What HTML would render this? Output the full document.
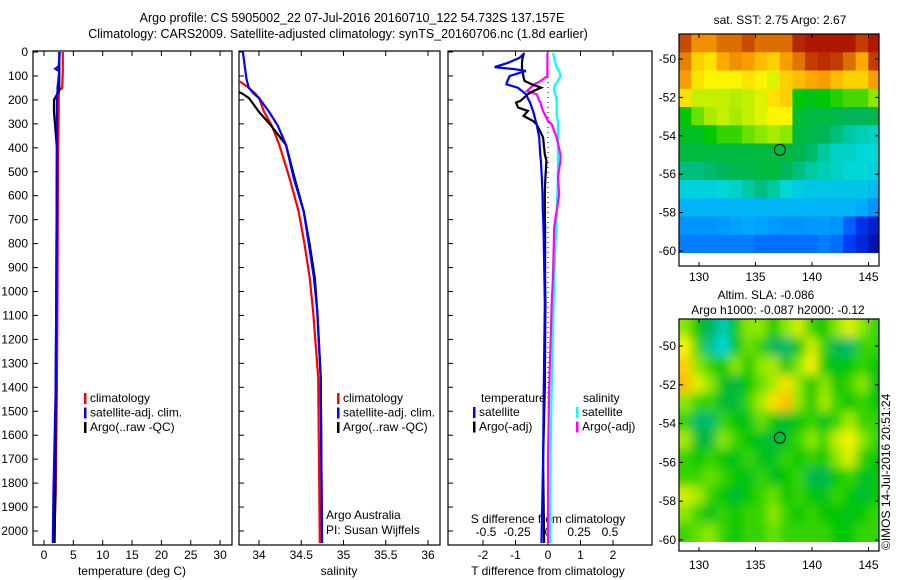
<!DOCTYPE html>
<html><head><meta charset="utf-8"><style>
html,body{margin:0;padding:0;background:#fff;}
svg{display:block;font-family:"Liberation Sans",sans-serif;}
</style></head><body>
<svg id="fig" width="900" height="580" xmlns="http://www.w3.org/2000/svg">
<defs>
<filter id="blur" x="0" y="0" width="1" height="1"><feGaussianBlur stdDeviation="5"/></filter>
<clipPath id="cp1"><rect x="33" y="51" width="199" height="494"/></clipPath>
<clipPath id="cp2"><rect x="239" y="51" width="201" height="494"/></clipPath>
<clipPath id="cp3"><rect x="448" y="51" width="204" height="494"/></clipPath>
<clipPath id="cpm1"><rect x="679" y="34" width="200" height="219"/></clipPath>
<clipPath id="cpm2"><rect x="679" y="319" width="200" height="223"/></clipPath>
</defs>
<text x="352" y="22" font-size="12.5" text-anchor="middle">Argo profile: CS 5905002_22 07-Jul-2016 20160710_122 54.732S 137.157E</text>
<text x="338" y="38" font-size="12.5" text-anchor="middle">Climatology: CARS2009. Satellite-adjusted climatology: synTS_20160706.nc (1.8d earlier)</text>
<g id="g"></g>
</svg>
<script>
// ---- data ----
const depthT = [0,60,70,80,150,160,200,250,400,1000,1400,1850,2050];
const tempClim = [3.2,3.2,3.2,3.2,3.1,2.55,2.5,2.5,2.4,2.3,2.2,2.0,1.7];
const tempSat = [2.7,2.5,1.9,2.6,2.3,2.3,2.2,2.2,2.2,2.1,2.0,1.6,1.5];
const tempArgo = [2.6,2.6,2.6,2.6,2.6,2.6,1.7,1.7,2.2,2.1,2.0,1.9,1.8];
const depthS = [0,108,125,150,171,192,250,306,388,525,667,804,942,1083,1358,2050];
const salClim = [33.6,33.6,33.78,33.88,33.95,34.0,34.06,34.15,34.24,34.36,34.47,34.54,34.6,34.64,34.70,34.72];
const salSat = [33.81,33.85,33.86,33.88,33.93,34.0,34.12,34.22,34.32,34.41,34.53,34.59,34.65,34.69,34.73,34.745];
const salArgo = [33.6,33.6,33.6,33.6,33.79,33.88,34.0,34.14,34.32,34.42,34.53,34.6,34.66,34.69,34.73,34.745];
const depthD = [4,24,45,63,72,79,100,121,135,149,163,176,204,211,232,246,267,288,302,329,357,427,454,524,593,663,732,940,1051,1400,1700,2050];
const dTsat = [-0.72,-0.87,-1.23,-1.64,-1.02,-0.68,-1.18,-1.25,-1.28,-0.93,-0.8,-0.68,-0.58,-0.55,-0.5,-0.46,-0.42,-0.38,-0.35,-0.31,-0.27,-0.24,-0.22,-0.19,-0.17,-0.16,-0.14,-0.11,-0.1,-0.13,-0.15,-0.2];
const dTargo = [-0.74,-0.78,-0.8,-0.8,-0.8,-0.78,-0.76,-0.72,-0.5,-0.21,-0.45,-0.62,-0.85,-0.98,-0.92,-0.62,-0.75,-0.46,-0.35,-0.25,-0.15,-0.1,-0.05,-0.08,-0.1,-0.1,-0.09,-0.09,-0.08,-0.1,-0.15,-0.12];
const dSsat = [0.04,0.05,0.06,0.07,0.08,0.09,0.1,0.08,0.06,0.05,0.05,0.06,0.07,0.07,0.07,0.07,0.07,0.08,0.08,0.08,0.08,0.08,0.08,0.08,0.075,0.07,0.065,0.05,0.045,0.03,0.02,0.015];
const dSargo = [-0.005,-0.005,-0.005,-0.005,-0.005,-0.005,-0.005,-0.06,-0.11,-0.14,-0.17,-0.09,-0.07,-0.06,-0.05,-0.04,-0.02,0.0,0.03,0.05,0.07,0.1,0.1,0.08,0.09,0.07,0.05,0.04,0.03,0.01,0.0,0.0];
const depthTicks = [0,100,200,300,400,500,600,700,800,900,1000,1100,1200,1300,1400,1500,1600,1700,1800,1900,2000];
const tempTicks = [0,5,10,15,20,25,30];
const salTicks = [34,34.5,35,35.5,36];
const dTTicks = [-2,-1,0,1,2];
const dSTicks = [-0.5,-0.25,0,0.25,0.5];
const lonTicks = [130,135,140,145];
const latTicks = [50,52,54,56,58,60];
const sstGrid = [
[0.9,0.8,0.8,0.85,0.85,0.9,0.85,0.85,0.85,0.95,0.97,0.97,0.97,0.97,0.92,0.97],
[0.82,0.72,0.7,0.76,0.8,0.78,0.74,0.72,0.78,0.84,0.92,0.94,0.92,0.85,0.76,0.92],
[0.78,0.7,0.68,0.68,0.68,0.7,0.68,0.66,0.72,0.74,0.76,0.78,0.74,0.72,0.72,0.78],
[0.7,0.64,0.64,0.64,0.63,0.64,0.66,0.7,0.72,0.52,0.5,0.52,0.54,0.56,0.56,0.6],
[0.52,0.58,0.62,0.64,0.62,0.64,0.66,0.68,0.68,0.48,0.47,0.47,0.46,0.45,0.45,0.46],
[0.49,0.49,0.52,0.55,0.55,0.58,0.6,0.62,0.6,0.47,0.46,0.45,0.43,0.41,0.4,0.39],
[0.47,0.47,0.47,0.47,0.47,0.47,0.47,0.47,0.47,0.46,0.44,0.41,0.39,0.39,0.38,0.38],
[0.43,0.43,0.44,0.45,0.46,0.46,0.47,0.47,0.45,0.43,0.41,0.4,0.39,0.38,0.38,0.37],
[0.37,0.37,0.37,0.38,0.39,0.41,0.43,0.41,0.38,0.36,0.35,0.35,0.35,0.35,0.35,0.33],
[0.32,0.32,0.32,0.32,0.32,0.32,0.32,0.32,0.32,0.32,0.32,0.32,0.32,0.32,0.3,0.27],
[0.27,0.27,0.27,0.28,0.29,0.3,0.29,0.28,0.27,0.27,0.28,0.28,0.27,0.2,0.12,0.08],
[0.24,0.24,0.24,0.24,0.24,0.24,0.22,0.22,0.22,0.22,0.22,0.24,0.22,0.15,0.1,0.05]];
const slaGrid = [
[0.6,0.52,0.45,0.4,0.5,0.6,0.6,0.52,0.6,0.65,0.55,0.52,0.6,0.66,0.6,0.55],
[0.68,0.55,0.42,0.38,0.5,0.58,0.55,0.45,0.44,0.52,0.65,0.55,0.45,0.44,0.55,0.55],
[0.72,0.6,0.55,0.52,0.6,0.52,0.6,0.62,0.5,0.6,0.68,0.52,0.5,0.52,0.55,0.52],
[0.74,0.66,0.6,0.5,0.47,0.52,0.58,0.62,0.7,0.6,0.52,0.6,0.52,0.55,0.6,0.5],
[0.6,0.55,0.55,0.48,0.47,0.55,0.62,0.7,0.74,0.6,0.52,0.62,0.55,0.52,0.55,0.52],
[0.55,0.44,0.44,0.55,0.52,0.5,0.58,0.52,0.48,0.52,0.55,0.5,0.55,0.62,0.55,0.55],
[0.62,0.48,0.47,0.6,0.55,0.52,0.5,0.47,0.5,0.55,0.6,0.55,0.64,0.68,0.6,0.55],
[0.55,0.52,0.55,0.52,0.5,0.55,0.5,0.5,0.55,0.52,0.55,0.52,0.6,0.66,0.55,0.52],
[0.55,0.55,0.58,0.55,0.52,0.5,0.55,0.5,0.52,0.55,0.46,0.46,0.52,0.55,0.5,0.5],
[0.65,0.62,0.55,0.52,0.48,0.52,0.55,0.58,0.52,0.55,0.52,0.5,0.55,0.52,0.48,0.52],
[0.6,0.55,0.5,0.55,0.52,0.55,0.55,0.6,0.55,0.52,0.55,0.52,0.52,0.5,0.52,0.55],
[0.55,0.58,0.6,0.55,0.52,0.55,0.55,0.58,0.55,0.55,0.55,0.55,0.52,0.52,0.55,0.55]];
const argoLon = 137.157, argoLat = 54.732;

// ---- axes ----
const NS='http://www.w3.org/2000/svg';
const G=document.getElementById('g');
const yD = d => 52 + 0.2395*d;
const xT = t => 44 + 5.87*t;
const xS = s => 259 + 84.5*(s-34);
const xdT = t => 548 + 32.5*t;
const xdS = s => 548 + 124*s;
const mLonX = lon => 699 + (lon-130)*11.3;
const m1LatY = lat => 59 + (lat-50)*19.2;
const m2LatY = lat => 346 + (lat-50)*19.4;
function el(tag,attrs,parent){const e=document.createElementNS(NS,tag);for(const k in attrs)e.setAttribute(k,attrs[k]);(parent||G).appendChild(e);return e;}
function txt(x,y,s,anchor,parent){const t=el('text',{x:x,y:y,'font-size':12,'text-anchor':anchor||'start'},parent);t.textContent=s;return t;}

function panel(x,w,name){
  const r=el('rect',{x:x,y:51,width:w,height:494,fill:'none',stroke:'#000','stroke-width':1.2});
  
  
  depthTicks.forEach(d=>{el('line',{x1:x,x2:x+5,y1:yD(d),y2:yD(d),stroke:'#000'});});
}
panel(33,199,'temperature-panel');
panel(239,201,'salinity-panel');
panel(448,204,'difference-panel');
depthTicks.forEach(d=>{const t=txt(28,yD(d)+4,String(d),'end');
  
  });
function xticks(ticks,fx,y0,lab){ticks.forEach(v=>{const x=fx(v);
  el('line',{x1:x,x2:x,y1:51,y2:56,stroke:'#000'});el('line',{x1:x,x2:x,y1:540,y2:545,stroke:'#000'});
  if(lab){const t=txt(x,y0,String(v),'middle');
  
  }});}
xticks(tempTicks,xT,559,true);
xticks(salTicks,xS,559,true);
xticks(dTTicks,xdT,559,true);
dSTicks.forEach(v=>{const t=txt(xdS(v),536,String(v),'middle');
  
  });
[[132,'temperature (deg C)','x-axis-title-temperature'],[339,'salinity','x-axis-title-salinity'],[548,'T difference from climatology','x-axis-title-t-diff']].forEach(a=>{
  const t=txt(a[0],575,a[1],'middle');
  
  });
let t0=txt(548,523,'S difference from climatology','middle');



el('line',{x1:xdT(0),x2:xdT(0),y1:yD(0),y2:yD(2050),stroke:'#000','stroke-dasharray':'1,4','clip-path':'url(#cp3)'});

function line(ds,vs,fx,color,cp,name){
  const pts=ds.map((d,i)=>fx(vs[i]).toFixed(1)+','+yD(d).toFixed(1)).join(' ');
  const p=el('polyline',{points:pts,fill:'none',stroke:color,'stroke-width':2.2,'clip-path':'url(#'+cp+')'});
  
  
}
line(depthT,tempClim,xT,'#f00','cp1','temp-climatology-line');
line(depthT,tempArgo,xT,'#000','cp1','temp-argo-line');
line(depthT,tempSat,xT,'#00f','cp1','temp-satellite-line');
line(depthS,salClim,xS,'#f00','cp2','sal-climatology-line');
line(depthS,salArgo,xS,'#000','cp2','sal-argo-line');
line(depthS,salSat,xS,'#00f','cp2','sal-satellite-line');
line(depthD,dSsat,xdS,'#0ff','cp3','s-diff-satellite-line');
line(depthD,dSargo,xdS,'#f0f','cp3','s-diff-argo-line');
line(depthD,dTargo,xdT,'#000','cp3','t-diff-argo-line');
line(depthD,dTsat,xdT,'#00f','cp3','t-diff-satellite-line');

function legend(x,y,entries,name){entries.forEach((e,i)=>{
  el('rect',{x:x,y:y+i*14.5-9,width:2.5,height:11,fill:e[0]});
  const t=txt(x+6,y+i*14.5,e[1]);
  
  });}
legend(84,402,[['#f00','climatology'],['#00f','satellite-adj. clim.'],['#000','Argo(..raw -QC)']],'legend-entry');
legend(337,402,[['#f00','climatology'],['#00f','satellite-adj. clim.'],['#000','Argo(..raw -QC)']],'legend-entry');
let lt=txt(481,402,'temperature');
let ls=txt(583,402,'salinity');
legend(473,416,[['#00f','satellite'],['#000','Argo(-adj)']],'legend-entry');
legend(576,416,[['#0ff','satellite'],['#f0f','Argo(-adj)']],'legend-entry');
let a1=txt(326,519,'Argo Australia');
let a2=txt(326,534,'PI: Susan Wijffels');

// ---- maps ----
const stops=[[0,[0,0,140]],[0.15,[0,60,255]],[0.3,[0,170,255]],[0.38,[0,215,215]],[0.45,[0,180,90]],[0.52,[0,200,0]],[0.6,[140,232,0]],[0.68,[250,245,0]],[0.76,[255,170,0]],[0.86,[215,105,0]],[1,[165,0,0]]];
function cmap(v){for(let i=1;i<stops.length;i++){if(v<=stops[i][0]){const a=stops[i-1],b=stops[i],f=(v-a[0])/(b[0]-a[0]);
  return 'rgb('+a[1].map((c,k)=>Math.round(c+(b[1][k]-c)*f)).join(',')+')';}}return 'rgb(165,0,0)';}
function heat(grid,latY,latTop,cp,blur,name){
  const g=el('g',{'clip-path':'url(#'+cp+')'});
  const inner=el('g',blur?{filter:'url(#blur)'}:{},g);
  const latBot=60.1,lonL=128.2,lonR=146.1;
  const nr=grid.length,nc=grid[0].length,pad=blur?14:0;
  grid.forEach((row,i)=>row.forEach((v,j)=>{
    const la0=latTop+(latBot-latTop)*i/nr, la1=latTop+(latBot-latTop)*(i+1)/nr;
    const lo0=lonL+(lonR-lonL)*j/nc, lo1=lonL+(lonR-lonL)*(j+1)/nc;
    let x0=mLonX(lo0),x1=mLonX(lo1)+0.5,y0=latY(la0),y1=latY(la1)+0.5;
    if(j==0)x0-=pad; if(j==nc-1)x1+=pad; if(i==0)y0-=pad; if(i==nr-1)y1+=pad;
    const r=el('rect',{x:x0,y:y0,width:x1-x0,height:y1-y0,fill:cmap(v)},inner);
    
    
  }));
}
heat(sstGrid,m1LatY,48.7,'cpm1',false,'sst-cell');
heat(slaGrid,m2LatY,48.6,'cpm2',true,'sla-cell');
function mapFrame(top,latY,labY,name){
  const r=el('rect',{x:679,y:top,width:200,height:232,fill:'none',stroke:'#000','stroke-width':1.2});
  
  
  lonTicks.forEach(l=>{const x=mLonX(l);el('line',{x1:x,x2:x,y1:top,y2:top+4,stroke:'#000'});el('line',{x1:x,x2:x,y1:top+232,y2:top+228,stroke:'#000'});
    const t=txt(x,labY,String(l),'middle');});
  latTicks.forEach(l=>{const y=latY(l);el('line',{x1:679,x2:683,y1:y,y2:y,stroke:'#000'});el('line',{x1:875,x2:879,y1:y,y2:y,stroke:'#000'});
    const t=txt(676,y+4,'-'+l,'end');});
}
mapFrame(34,m1LatY,281,'sst-map');
mapFrame(319,m2LatY,569,'sla-map');
[m1LatY,m2LatY].forEach((f,i)=>{const c=el('circle',{cx:mLonX(argoLon),cy:f(argoLat),r:5.5,fill:'none',stroke:'#000','stroke-width':1});
  });
let m1=txt(780,24,'sat. SST: 2.75 Argo: 2.67','middle');
let m2=txt(766,299,'Altim. SLA: -0.086','middle');
let m3=txt(778,314,'Argo h1000: -0.087 h2000: -0.12','middle');
let cr=el('text',{x:0,y:0,'font-size':12,transform:'translate(890,550) rotate(-90)'});cr.textContent='©IMOS 14-Jul-2016 20:51:24';


</script>
</body></html>
